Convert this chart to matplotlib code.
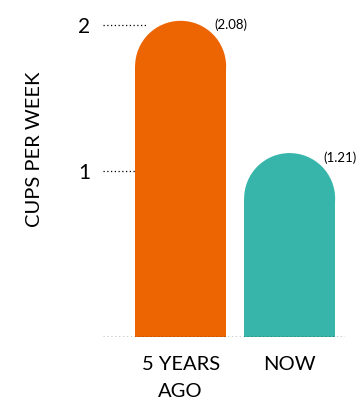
import matplotlib.pyplot as plt
from matplotlib.patches import Ellipse

categories = ["5 YEARS\nAGO", "NOW"]
cups = [2.08, 1.21]
value_labels = ["(2.08)", "(1.21)"]
bar_colors = ["#ED6403", "#37B5AA"]
ytick_pos = [1.09, 2.05]
ytick_labels = ["1", "2"]

plt.rcParams['font.family'] = ['Lato', 'DejaVu Sans']

fig = plt.figure(figsize=(3.58, 4.0), dpi=100)
ax = fig.add_axes([0.288, 0.1575, 0.676, 0.8425])
ax.set_xlim(-0.711, 1.509)
ax.set_ylim(0, 2.217)
for s in ax.spines.values():
    s.set_visible(False)

x = list(range(len(cups)))
width = 0.835

# pixel per data unit, so the rounded tops come out as half circles
p0 = ax.transData.transform((0, 0))
p1 = ax.transData.transform((1, 1))
px_x = p1[0] - p0[0]
px_y = p1[1] - p0[1]
ry = (width / 2) * px_x / px_y

# dotted guides
x0 = ax.get_xlim()[0]
ax.hlines(ytick_pos, x0, x0 + 44 / px_x, colors="black", linestyles=(0, (1, 2)),
          linewidth=0.9, zorder=1)
ax.hlines(0, x0, ax.get_xlim()[1], colors="black", linestyles=(0, (1, 1.8)),
          linewidth=1.0, zorder=3)

for xi, v, c, lab in zip(x, cups, bar_colors, value_labels):
    ax.bar(xi, v - ry, width=width, color=c, align="center", zorder=2, linewidth=0)
    ax.add_patch(Ellipse((xi, v - ry), width, 2 * ry, color=c, zorder=2, linewidth=0))
    ax.annotate(lab, xy=(xi + width / 2, v), xytext=(-8.5, -3), textcoords="offset points",
                ha="left", va="center", fontsize=9.5, annotation_clip=False)

ax.set_yticks(ytick_pos)
ax.set_yticklabels(ytick_labels, fontsize=15)
ax.set_xticks(x)
ax.set_xticklabels(categories, fontsize=14.5, linespacing=1.7)
ax.tick_params(axis="y", length=0, pad=9)
ax.tick_params(axis="x", length=0, pad=14)

fig.text(35 / 358, 1 - 149 / 400, "CUPS PER WEEK", rotation=90, fontsize=14.5,
         ha="center", va="center")

fig.savefig("out.png", dpi=100)
